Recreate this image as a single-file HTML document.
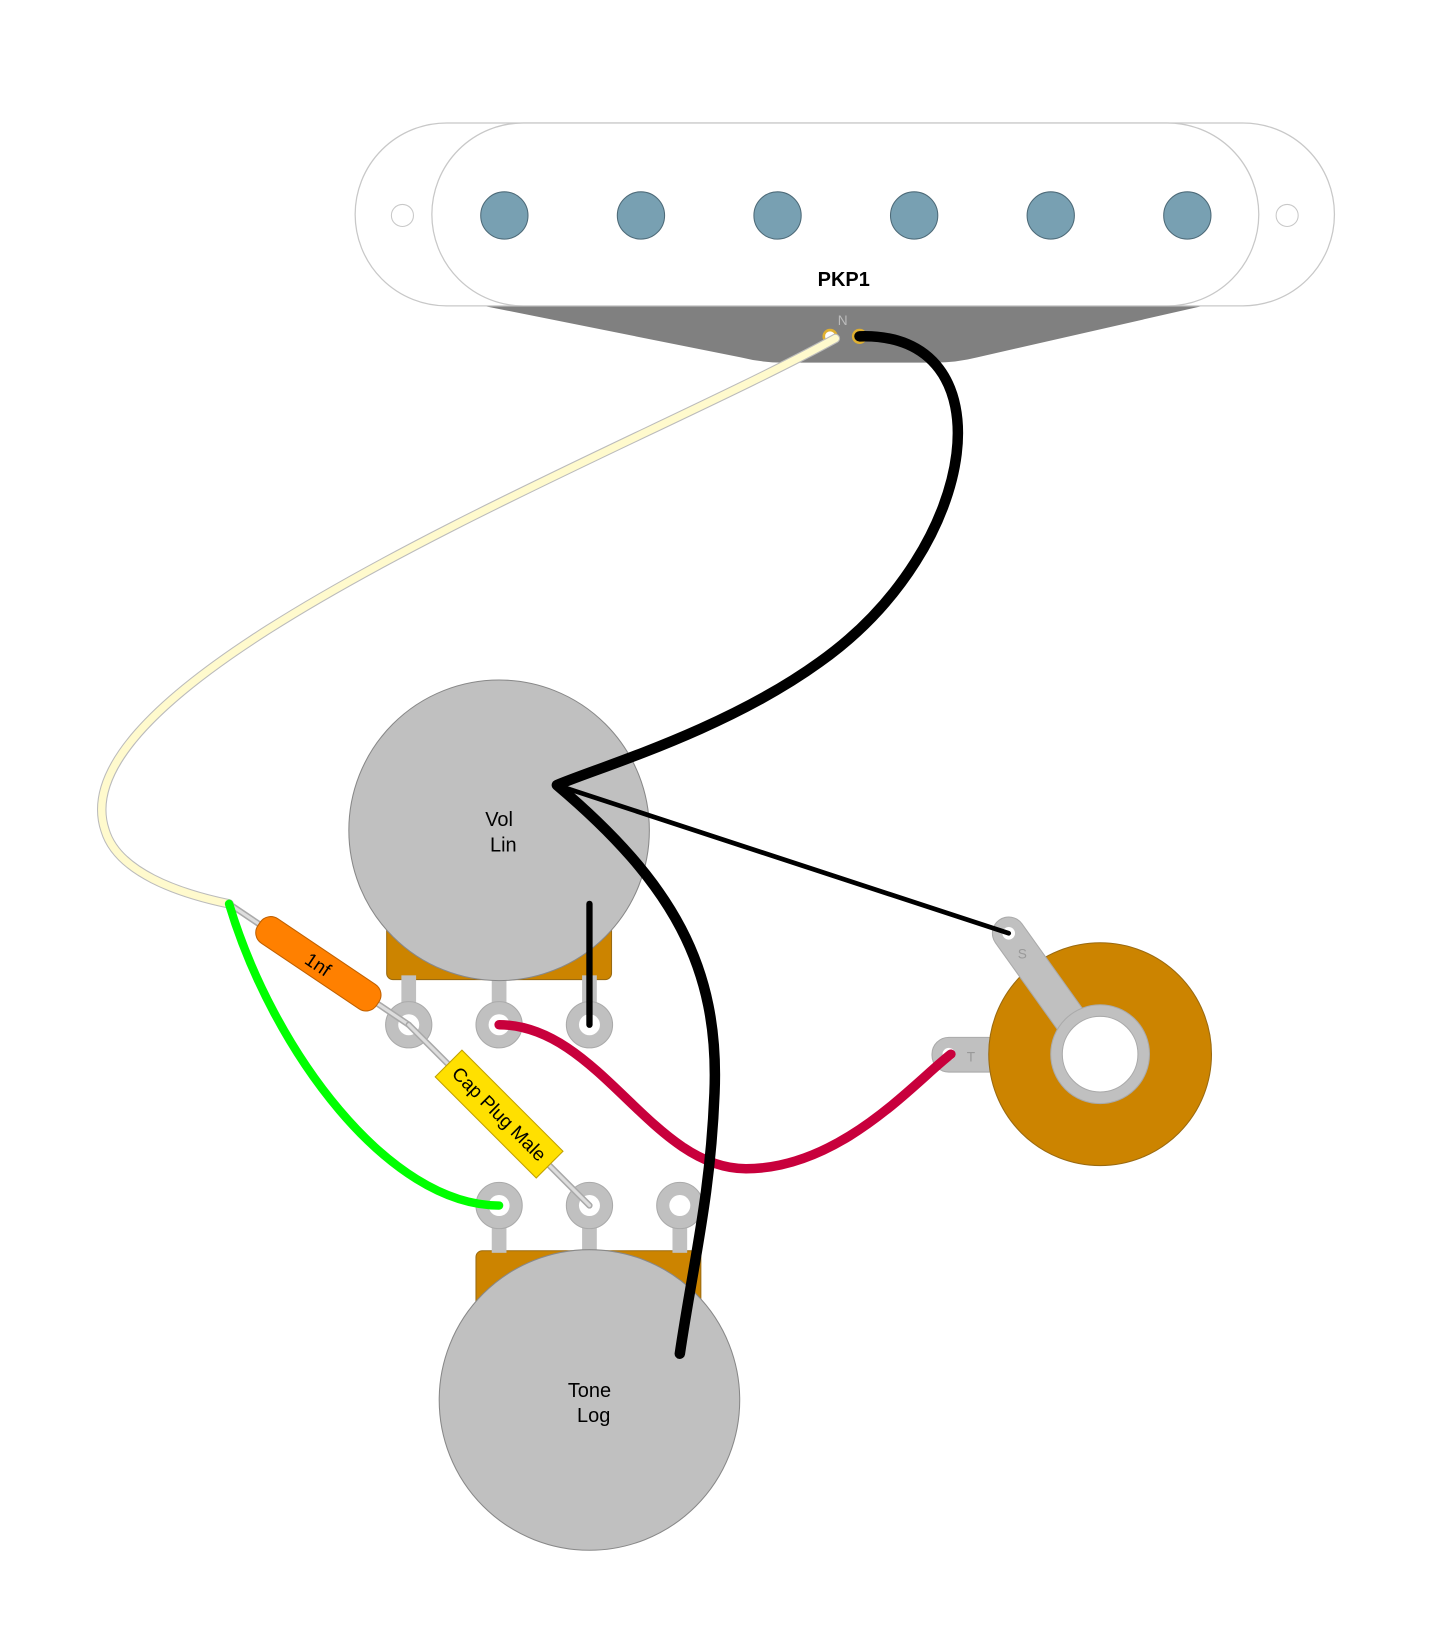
<!DOCTYPE html>
<html><head><meta charset="utf-8"><style>
html,body{margin:0;padding:0;background:#fff;}
svg{display:block;}
text{font-family:"Liberation Sans","DejaVu Sans",sans-serif;}
</style></head><body>
<svg width="1429" height="1648" viewBox="0 0 1360 1568" preserveAspectRatio="none">
<g>
  <path d="M460,291 L1145,291 L930,340 Q910,345 890,345 L745,345 Q725,345 705,340 Z" fill="#808080"/>
  <rect x="338" y="117" width="932" height="174" rx="87" fill="#fff" stroke="#c8c8c8" stroke-width="1.2"/>
  <rect x="411" y="117" width="787" height="174" rx="87" fill="#fff" stroke="#c8c8c8" stroke-width="1.2"/>
  <circle cx="383" cy="205" r="10.5" fill="#fff" stroke="#c8c8c8"/>
  <circle cx="1225" cy="205" r="10.5" fill="#fff" stroke="#c8c8c8"/>
  <g fill="#78a0b2" stroke="#4d6a78" stroke-width="1">
    <circle cx="480" cy="205" r="22.5"/>
    <circle cx="610" cy="205" r="22.5"/>
    <circle cx="740" cy="205" r="22.5"/>
    <circle cx="870" cy="205" r="22.5"/>
    <circle cx="1000" cy="205" r="22.5"/>
    <circle cx="1130" cy="205" r="22.5"/>
  </g>
  <text x="803" y="272" font-size="19" font-weight="bold" text-anchor="middle">PKP1</text>
  <text x="802" y="309" font-size="13" fill="#bbb" text-anchor="middle">N</text>
  <circle cx="790" cy="320" r="6" fill="#fff" stroke="#e0b030" stroke-width="2.5"/>
  <circle cx="818" cy="320" r="6" fill="#fff" stroke="#e0b030" stroke-width="2.5"/>
</g>

<g>
  <rect x="368" y="870" width="214" height="62" rx="6" fill="#cc8400" stroke="#9a6a10"/>
  <g fill="#c0c0c0">
    <rect x="382" y="928" width="14" height="30"/><rect x="468" y="928" width="14" height="30"/><rect x="554" y="928" width="14" height="30"/>
  </g>
  <circle cx="475" cy="790" r="143" fill="#c0c0c0" stroke="#888"/>
  <text x="475" y="786" font-size="19" text-anchor="middle">Vol</text>
  <text x="479" y="810" font-size="19" text-anchor="middle">Lin</text>
  <g fill="#c0c0c0" stroke="#aaa">
    <circle cx="389" cy="975" r="22"/>
    <circle cx="475" cy="975" r="22"/>
    <circle cx="561" cy="975" r="22"/>
  </g>
  <g fill="#fff"><circle cx="389" cy="975" r="10"/><circle cx="475" cy="975" r="10"/><circle cx="561" cy="975" r="10"/></g>
</g>

<g>
  <rect x="453" y="1190" width="214" height="60" rx="6" fill="#cc8400" stroke="#9a6a10"/>
  <g fill="#c0c0c0">
    <rect x="468" y="1162" width="14" height="30"/><rect x="554" y="1162" width="14" height="30"/><rect x="640" y="1162" width="14" height="30"/>
  </g>
  <circle cx="561" cy="1332" r="143" fill="#c0c0c0" stroke="#888"/>
  <text x="561" y="1329" font-size="19" text-anchor="middle">Tone</text>
  <text x="565" y="1353" font-size="19" text-anchor="middle">Log</text>
  <g fill="#c0c0c0" stroke="#aaa">
    <circle cx="475" cy="1147" r="22"/>
    <circle cx="561" cy="1147" r="22"/>
    <circle cx="647" cy="1147" r="22"/>
  </g>
  <g fill="#fff"><circle cx="475" cy="1147" r="10"/><circle cx="561" cy="1147" r="10"/><circle cx="647" cy="1147" r="10"/></g>
</g>

<g>
  <rect x="887" y="987" width="70" height="33" rx="16" fill="#c0c0c0" stroke="#aaa"/>
  <text x="924" y="1010" font-size="13" fill="#999" text-anchor="middle">T</text>
  <circle cx="1047" cy="1003" r="106" fill="#cc8400" stroke="#9a6a10"/>
  <line x1="960" y1="888" x2="1040" y2="1000" stroke="#aaa" stroke-width="32" stroke-linecap="round"/>
  <line x1="960" y1="888" x2="1040" y2="1000" stroke="#c0c0c0" stroke-width="30" stroke-linecap="round"/>
  <text x="973" y="912" font-size="13" fill="#999" text-anchor="middle">S</text>
  <circle cx="1047" cy="1003" r="47" fill="#c0c0c0" stroke="#aaa"/>
  <circle cx="1047" cy="1003" r="36" fill="#fff" stroke="#aaa"/>
  <circle cx="960" cy="888" r="6" fill="#fff"/>
  <circle cx="903" cy="1003" r="6" fill="#fff"/>
</g>

<g>
  <line x1="218" y1="860" x2="389" y2="975" stroke="#aaa" stroke-width="6" stroke-linecap="round"/>
  <line x1="218" y1="860" x2="389" y2="975" stroke="#ddd" stroke-width="3" stroke-linecap="round"/>
  <g transform="translate(303,917) rotate(33.9)">
    <rect x="-68" y="-14" width="136" height="28" rx="12" fill="#ff8000" stroke="#c06000"/>
    <text x="0" y="7" font-size="18" text-anchor="middle">1nf</text>
  </g>
</g>

<g>
  <line x1="389" y1="975" x2="561" y2="1147" stroke="#aaa" stroke-width="6" stroke-linecap="round"/>
  <line x1="389" y1="975" x2="561" y2="1147" stroke="#ddd" stroke-width="3" stroke-linecap="round"/>
  <g transform="translate(475,1060) rotate(45)">
    <rect x="-68" y="-18" width="136" height="36" fill="#ffe000" stroke="#c0a000"/>
    <text x="0" y="6" font-size="18" text-anchor="middle">Cap Plug Male</text>
  </g>
</g>

<g>
  <path d="M795,322 C600,430 50,640 100,790 C112,830 170,850 218,860" fill="none" stroke="#bbb" stroke-width="9" stroke-linecap="round"/>
  <path d="M795,322 C600,430 50,640 100,790 C112,830 170,850 218,860" fill="none" stroke="#fffacd" stroke-width="7" stroke-linecap="round"/>
  <path d="M218,860 C260,1000 370,1147 475,1147" fill="none" stroke="#00ff00" stroke-width="8" stroke-linecap="round"/>
  <path d="M475,975 C570,975 620,1112 710,1112 C800,1112 870,1030 905,1003" fill="none" stroke="#c8003c" stroke-width="9" stroke-linecap="round"/>
  <line x1="530" y1="747" x2="960" y2="888" stroke="#000" stroke-width="4.5" stroke-linecap="round"/>
  <line x1="561" y1="860" x2="561" y2="975" stroke="#000" stroke-width="6" stroke-linecap="round"/>
  <path d="M818,320 C960,315 935,520 780,630 C690,695 570,730 530,747 C640,840 685,920 680,1040 C676,1140 660,1200 647,1288" fill="none" stroke="#000" stroke-width="10" stroke-linecap="round" stroke-linejoin="round"/>
</g>
</svg>
</body></html>
